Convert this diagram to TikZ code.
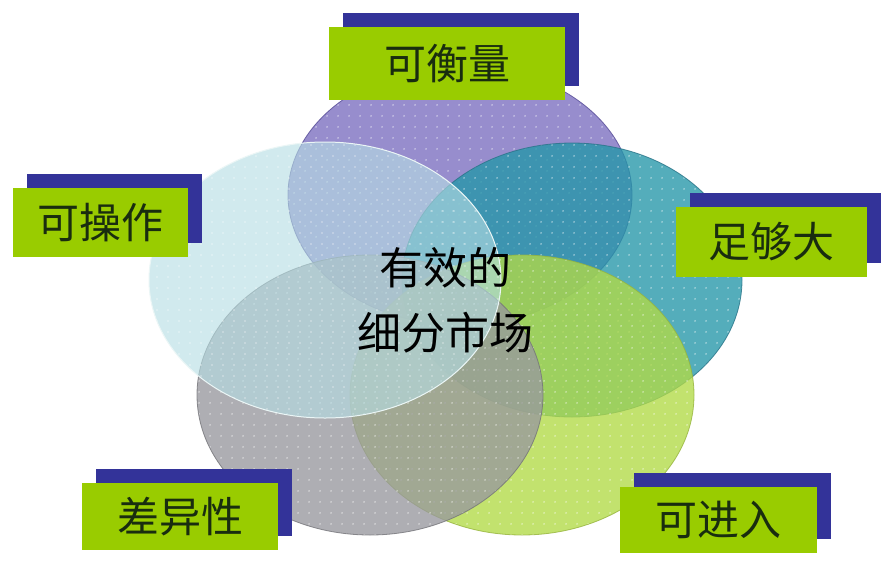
\documentclass[tikz,border=0pt]{standalone}
\usepackage{fontspec}
\newfontfamily\cjk{Noto Sans CJK SC}
\usetikzlibrary{patterns.meta,shadows}
\definecolor{cPurple}{RGB}{122,110,192}
\definecolor{cTeal}{RGB}{36,150,168}
\definecolor{cGray}{RGB}{152,152,158}
\definecolor{cGreen}{RGB}{178,218,70}
\definecolor{cCyan}{RGB}{182,222,228}
\definecolor{ePurple}{RGB}{85,75,150}
\definecolor{eTeal}{RGB}{40,115,135}
\definecolor{eGray}{RGB}{115,115,120}
\definecolor{eGreen}{RGB}{150,180,60}
\definecolor{eCyan}{RGB}{235,246,246}
\definecolor{boxGreen}{RGB}{153,204,0}
\definecolor{boxBlue}{RGB}{51,51,153}
\definecolor{txtDark}{RGB}{25,45,15}
\tikzset{
  blob/.style={fill=#1, fill opacity=0.78,
    postaction={pattern={Dots[distance=10.5pt,radius=1pt]}, pattern color=white, fill opacity=0.5}},
  label/.style={fill=boxGreen, inner sep=0pt, text=txtDark,
    font={\cjk\fontsize{42}{50}\selectfont},
    general shadow={fill=boxBlue, shadow xshift=14pt, shadow yshift=14pt}},
}
\begin{document}
\begin{tikzpicture}[x=1pt,y=-1pt]
\useasboundingbox (0,0) rectangle (894,566);
\fill[white] (0,0) rectangle (894,566);
% ellipses
\path[blob=cPurple] (460,195) ellipse [x radius=172pt, y radius=130pt];
\draw[ePurple, line width=0.8pt, draw opacity=0.8] (460,195) ellipse [x radius=172pt, y radius=130pt];
\path[blob=cTeal] (572,280) ellipse [x radius=170pt, y radius=137pt];
\draw[eTeal, line width=0.8pt, draw opacity=0.8] (572,280) ellipse [x radius=170pt, y radius=137pt];
\path[blob=cGreen] (522,395) ellipse [x radius=172pt, y radius=140pt];
\draw[eGreen, line width=0.8pt, draw opacity=0.8] (522,395) ellipse [x radius=172pt, y radius=140pt];
\path[blob=cGray] (370,395) ellipse [x radius=173pt, y radius=140pt];
\draw[eGray, line width=0.8pt, draw opacity=0.8] (370,395) ellipse [x radius=173pt, y radius=140pt];
\path[fill=cCyan, fill opacity=0.62,
  postaction={pattern={Dots[distance=10.5pt,radius=1pt]}, pattern color=white, fill opacity=0.5}]
  (325,280) ellipse [x radius=176pt, y radius=138pt];
\draw[eCyan, line width=1pt] (325,280) ellipse [x radius=176pt, y radius=138pt];
% center text
\node[font={\cjk\fontsize{44}{65}\selectfont}, align=center, text=black] (c) at (445,300) {有效的\\细分市场};
% labels
\node[label, minimum width=236pt, minimum height=73pt] (m) at (447,63.5) {可衡量};
\node[label, minimum width=175pt, minimum height=69pt] (o) at (100.5,222.5) {可操作};
\node[label, minimum width=191pt, minimum height=70pt] (s) at (771.5,242) {足够大};
\node[label, minimum width=196pt, minimum height=67pt] (d) at (180,516.5) {差异性};
\node[label, minimum width=197pt, minimum height=66pt] (j) at (718.5,520) {可进入};
\end{tikzpicture}
\end{document}
